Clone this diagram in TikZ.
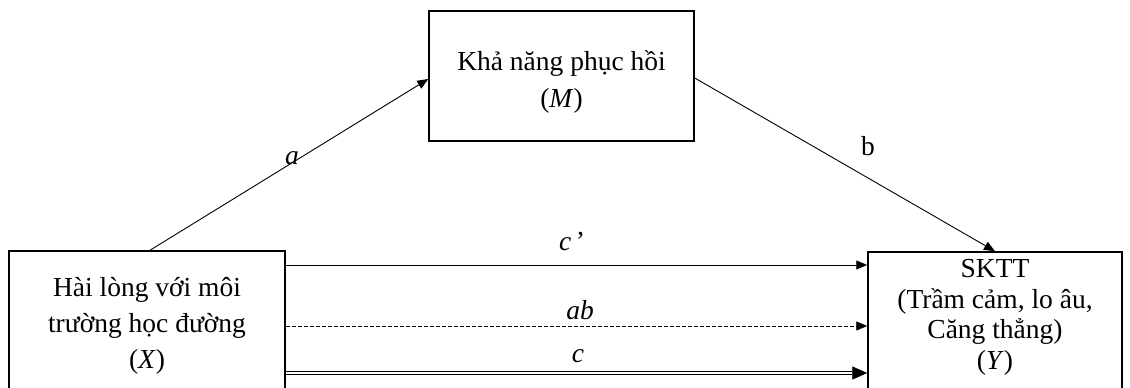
\documentclass[tikz,border=0pt]{standalone}
\usepackage{fontspec}
\setmainfont{Liberation Serif}
\usetikzlibrary{arrows.meta,calc}
\tikzset{
  box/.style={draw, line width=1.5pt, rectangle, inner sep=0pt},
  txt/.style={align=center, inner sep=0pt, font=\fontsize{27.5}{36}\selectfont},
  lbl/.style={inner sep=0pt, font=\fontsize{27.5}{33}\selectfont},
  conn/.style={line width=0.9pt, -{Triangle[length=11pt,width=9pt]}},
}
\begin{document}
\begin{tikzpicture}[x=1pt,y=-1pt]
\clip (0,0) rectangle (1130,388);
\useasboundingbox (0,0) rectangle (1130,388);
% boxes
\node[box, minimum width=276pt, minimum height=150pt] (X) at (147,326) {};
\node[box, minimum width=265pt, minimum height=130pt] (M) at (561.5,76) {};
\node[box, minimum width=254pt, minimum height=150pt] (Y) at (995,327) {};
% texts (base anchor = baseline of last line)
\node[txt, anchor=base] (Xt) at (147,368) {Hài lòng với môi\\trường học đường\\(\textit{X})};
\node[txt, anchor=base, font=\fontsize{27.5}{37}\selectfont] (Mt) at (561.5,107) {Khả năng phục hồi\\(\textit{M})};
\node[txt, anchor=base, font=\fontsize{27.5}{30.5}\selectfont] (Yt) at (995,369) {SKTT\\(Trầm cảm, lo âu,\\Căng thẳng)\\(\textit{Y})};
% connectors
\draw[conn] ([xshift=3pt]X.north) -- ([yshift=-3pt]M.west);
\draw[conn] ([yshift=-2pt]M.east) -- (Y.north);
\draw[conn] ([yshift=61pt]X.east) -- ([yshift=61pt]X.east -| Y.west);
\draw[conn, dash pattern=on 4pt off 2pt] (X.east) -- (X.east -| Y.west);
\draw[line width=0.9pt, double, double distance=1.6pt, -{Triangle[length=15pt,width=13pt]}] ([yshift=-47pt]X.east) -- ([yshift=-47pt]X.east -| Y.west);
% labels
\node[lbl] (la) at (292,158) {\textit{a}};
\node[lbl] (lb) at (868,146) {b};
\node[lbl] (lc1) at (572,241) {\textit{c}\,’};
\node[lbl] (lab) at (580,310) {\textit{ab}};
\node[lbl] (lc) at (578,356) {\textit{c}};
\end{tikzpicture}
\end{document}
